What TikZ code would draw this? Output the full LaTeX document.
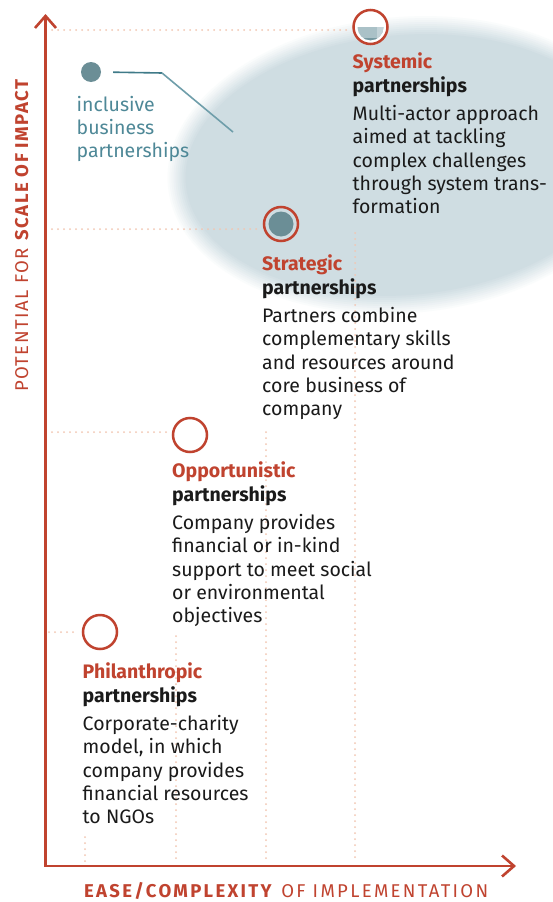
\documentclass[tikz,border=0pt]{standalone}
\usepackage{fontspec}
\setmainfont{Fira Sans}
\usetikzlibrary{arrows.meta}
\definecolor{redA}{HTML}{C0432F}
\definecolor{dotc}{HTML}{F2C6B2}
\definecolor{ellc}{HTML}{CFDDE2}
\definecolor{tealt}{HTML}{4E8897}
\definecolor{teald}{HTML}{6B8E96}
\definecolor{tealline}{HTML}{3F7A88}
\definecolor{tealfade}{HTML}{6F9EAA}
\definecolor{bowlc}{HTML}{AAC1C7}
\definecolor{bowlr}{HTML}{C3D3D8}
\definecolor{bowld}{HTML}{7598A0}
\definecolor{txt}{HTML}{1A1A1A}
\tikzset{
  dotline/.style={dotc, line width=2pt, line cap=round, dash pattern=on 0pt off 6pt},
  ring/.style={circle, draw=redA, line width=2.5pt, minimum size=34pt, inner sep=0pt},
  ttl/.style={anchor=base west, inner sep=0pt, font=\fontsize{19.5}{23}\selectfont\bfseries, text=redA},
  subt/.style={anchor=base west, inner sep=0pt, font=\fontsize{19.5}{23}\selectfont\bfseries, text=txt},
  desc/.style={anchor=base west, inner sep=0pt, font=\fontsize{19.5}{23}\selectfont, text=txt},
  incl/.style={anchor=base west, inner sep=0pt, font=\fontsize{19.5}{23}\selectfont, text=tealt},
  axisline/.style={redA, line width=2.8pt, {Straight Barb[length=12pt,width=21pt,line width=2.6pt]}-{Straight Barb[length=12pt,width=21pt,line width=2.6pt]}},
  axlab/.style={inner sep=0pt, text=redA, font=\fontsize{18.5}{21}\selectfont\addfontfeatures{LetterSpace=12.5}},
  aylab/.style={inner sep=0pt, text=redA, font=\fontsize{18.5}{21}\selectfont\addfontfeatures{LetterSpace=8}}
}
\newcommand\pblock[5]{%
  \node[ttl] (#1t) at (#2,#3) {#4};
  \node[subt] (#1s) at (#2,{#3+24}) {partnerships};
  \foreach \dl [count=\i] in {#5}
    \node[desc] (#1d\i) at (#2,{#3+52.5+23.35*(\i-1)}) {\dl};
}
\begin{document}
\begin{tikzpicture}[x=1pt,y=-1pt]
\useasboundingbox (0,0) rectangle (553,902);
\fill[white] (0,0) rectangle (553,902);
% soft ellipse
\foreach \k in {0,...,10}{
  \pgfmathsetmacro\pc{\k*10}
  \pgfmathsetmacro\dr{10-2*\k}
  \fill[ellc!\pc!white, rotate around={5:(405,165)}] (405,165) ellipse [x radius={230+\dr}, y radius={140+\dr}];
}
% dotted guides
\draw[dotline] (52,30) -- (346,30);
\draw[dotline] (52,229) -- (257,229);
\draw[dotline] (52,432) -- (166,432);
\draw[dotline] (49,632) -- (76,632);
\draw[dotline] (355,233) -- (355,862);
\draw[dotline] (266,432) -- (266,862);
\draw[dotline] (176,636) -- (176,862);
\draw[dotline] (85,837) -- (85,862);
% axes
\draw[axisline] (45.5,14) |- (516,866);
% circles
\node[ring, fill=white] (sysc) at (370.5,27) {};
\begin{scope}
  \clip (370.5,27.3) circle (13);
  \fill[bowlc] (357,27.3) rectangle (384,41);
  \fill[bowlr] (377,27.3) rectangle (384,41);
  \fill[bowld] (357,38.3) rectangle (384,41);
\end{scope}
\node[ring, fill=ellc] (strc) at (281,224) {};
\node[circle, fill=teald, minimum size=25pt, inner sep=0pt] (strin) at (strc) {};
\node[ring] (oppc) at (190,435) {};
\node[ring] (phic) at (100,632) {};
% inclusive business
\node[circle, fill=teald, minimum size=20pt, inner sep=0pt] (incdot) at (91,72) {};
\coordinate (incbend) at (162,73);
\coordinate (incend) at (233,132);
\draw[tealline, line width=1.6pt, shorten <=12pt] (incdot.east) -- (incbend);
\draw[tealfade, line width=1.6pt] (incbend) -- (incend);
\node[incl] (inc1) at (76.5,111) {inclusive};
\node[incl] (inc2) at (76.5,134) {business};
\node[incl] (inc3) at (76.5,157) {partnerships};
% text blocks
\pblock{sys}{352.5}{68}{Systemic}{Multi-actor approach, aimed at tackling, complex challenges, through system trans-, formation}
\pblock{str}{262}{270}{Strategic}{Partners combine, complementary skills, and resources around, core business of, company}
\pblock{opp}{172}{477}{Opportunistic}{Company provides, financial or in-kind, support to meet social, or environmental, objectives}
\pblock{phi}{82.5}{678}{Philanthropic}{Corporate-charity, {model, in which}, company provides, financial resources, to NGOs}
% axis labels
\node[axlab, anchor=base west] (xlab) at (84,897.5) {\textbf{EASE/COMPLEXITY} OF IMPLEMENTATION};
\node[aylab, anchor=base, rotate=90] (ylab) at (28,235) {POTENTIAL FOR \textbf{SCALE OF IMPACT}};
\end{tikzpicture}
\end{document}
